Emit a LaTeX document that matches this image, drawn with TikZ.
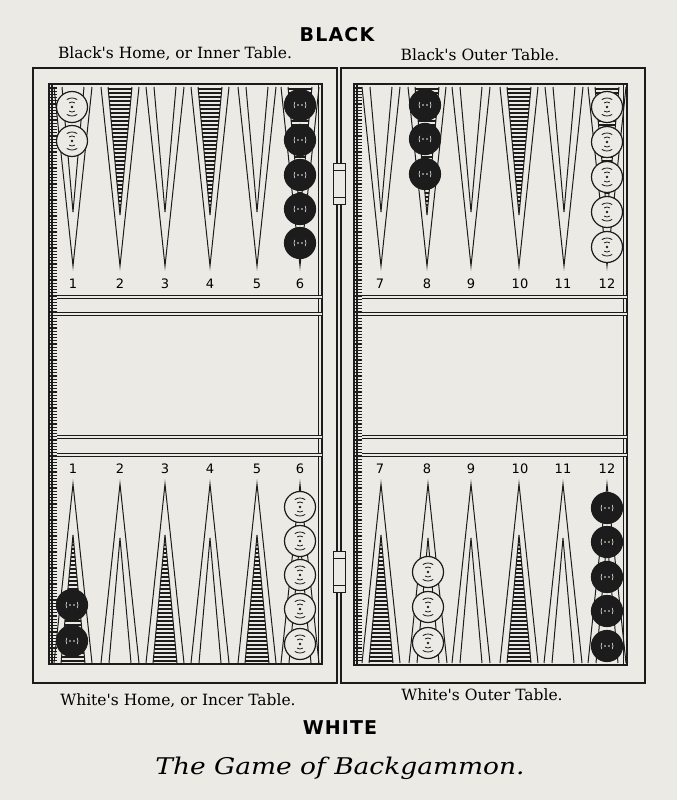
\documentclass[tikz,border=0pt]{standalone}
\usepackage{fontspec}
\definecolor{paper}{RGB}{236,234,229}
\definecolor{ink}{RGB}{28,28,28}
\newfontfamily\labelfont{DejaVu Serif}
\newfontfamily\titlefont[FakeStretch=1.15]{DejaVu Serif Italic}
\newfontfamily\headfont[LetterSpace=6]{DejaVu Sans}
\newfontfamily\numfont{DejaVu Sans}

\tikzset{
    frame/.style={draw=ink, line width=2pt},
    pointline/.style={draw=ink, line width=1pt, line join=miter},
    barline/.style={draw=ink, double=paper, line width=0.6pt, double distance=2pt},
    hatchline/.style={draw=ink, line width=2.1pt},
    tickline/.style={draw=ink, line width=1.3pt},
    sidelabel/.style={anchor=base, inner sep=0pt, font=\labelfont\fontsize{15.5}{15.5}\selectfont},
    headlabel/.style={anchor=base, inner sep=0pt, font=\headfont\bfseries\fontsize{19}{19}\selectfont},
    numlabel/.style={anchor=base, inner sep=0pt, font=\numfont\fontsize{13}{13}\selectfont},
    lightpoint/.pic={
        \draw[pointline] (-19,0) -- (0,179) -- (19,0);
        \draw[pointline] (-11,0) -- (0,125) -- (11,0);
    },
    darkpoint/.pic={
        \draw[pointline] (-19,0) -- (0,179) -- (19,0);
        \begin{scope}
            \clip (-12,0) -- (0,128) -- (12,0) -- cycle;
            \foreach \hy in {2,6,...,130}
                \draw[hatchline] (-13,\hy) -- (13,\hy);
        \end{scope}
        \draw[pointline] (-12,0) -- (0,128) -- (12,0);
    },
    whiteman/.pic={
        \draw[ink, line width=1.2pt, fill=paper] (0,0) circle (15.5);
        \fill[ink] (0,0) circle (1.4);
        \foreach \r in {5,9}
            \draw[ink, line width=0.8pt] (55:\r) arc (55:125:\r) (235:\r) arc (235:305:\r);
    },
    blackman/.pic={
        \draw[ink, line width=1.2pt, fill=ink] (0,0) circle (15.5);
        \draw[paper, line width=0.6pt] (150:6) arc (150:210:6) (-30:6) arc (-30:30:6);
        \fill[paper] (-2,0) circle (0.9) (2,0) circle (0.9);
    }
}

\begin{document}
\begin{tikzpicture}[x=1pt, y=-1pt]
    \fill[paper] (0,0) rectangle (677,800);
    \useasboundingbox (0,0) rectangle (677,800);

    % the two halves of the board
    \draw[frame] (33,68) rectangle (337,683);
    \draw[frame] (341,68) rectangle (645,683);
    \draw[frame, line width=2.8pt] (49,84) rectangle (322,664);
    \draw[frame, line width=2.8pt] (354,84) rectangle (627,665);
    \foreach \ty in {88,91.2,...,662} {
        \draw[tickline] (49,\ty) -- (57,\ty);
        \draw[tickline] (354,\ty) -- (362,\ty);
    }
    \draw[ink, line width=2pt] (51.5,84) -- (51.5,664);
    \draw[ink, line width=2pt] (356.5,84) -- (356.5,665);
    \draw[pointline] (318,84) -- (318,664);
    \draw[pointline] (623,84) -- (623,665);

    % bar
    \foreach \by in {297,314,437,455} {
        \draw[barline] (57,\by) -- (322,\by);
        \draw[barline] (362,\by) -- (627,\by);
    }

    % points
    \foreach \px in {73,165,257,381,471,564}
        \pic at (\px,87) {lightpoint};
    \foreach \px in {120,210,300,427,519,607}
        \pic at (\px,87) {darkpoint};
    \foreach \px in {120,210,300,428,471,563,607}
        \pic[yscale=-1] at (\px,663) {lightpoint};
    \foreach \px in {73,165,257,381,519}
        \pic[yscale=-1] at (\px,663) {darkpoint};

    % men
    \foreach \cy in {107,141}
        \pic at (72,\cy) {whiteman};
    \foreach \cy in {105,140,175,209,243}
        \pic at (300,\cy) {blackman};
    \foreach \cy in {105,139,174}
        \pic at (425,\cy) {blackman};
    \foreach \cy in {107,142,177,212,247}
        \pic at (607,\cy) {whiteman};
    \foreach \cy in {605,641}
        \pic at (72,\cy) {blackman};
    \foreach \cy in {507,541,575,609,644}
        \pic at (300,\cy) {whiteman};
    \foreach \cy in {572,607,643}
        \pic at (428,\cy) {whiteman};
    \foreach \cy in {508,542,577,611,646}
        \pic at (607,\cy) {blackman};

    % hinges
    \foreach \hy in {163,551} {
        \draw[ink, line width=1pt, fill=paper] (333,\hy) rectangle (345,\hy+41);
        \draw[ink, line width=0.7pt] (333,\hy+7) -- (345,\hy+7) (333,\hy+34) -- (345,\hy+34);
    }

    \foreach \n/\px in {1/73,2/120,3/165,4/210,5/257,6/300,7/380,8/427,9/471,10/520,11/563,12/607} {
        \node[numlabel] (top\n) at (\px,288) {\n};
        \node[numlabel] (bot\n) at (\px,473) {\n};
    }

    \node[headlabel] (black) at (337,42) {BLACK};
    \node[sidelabel] (blackhome) at (175,59) {Black's Home, or Inner Table.};
    \node[sidelabel] (blackouter) at (480,60) {Black's Outer Table.};
    \node[sidelabel] (whitehome) at (178,705) {White's Home, or Incer Table.};
    \node[sidelabel] (whiteouter) at (482,700) {White's Outer Table.};
    \node[headlabel] (white) at (340,734) {WHITE};
    \node[anchor=base, inner sep=0pt, font=\titlefont\fontsize{23}{23}\selectfont] (title) at (340,774) {The Game of Backgammon.};
\end{tikzpicture}
\end{document}
